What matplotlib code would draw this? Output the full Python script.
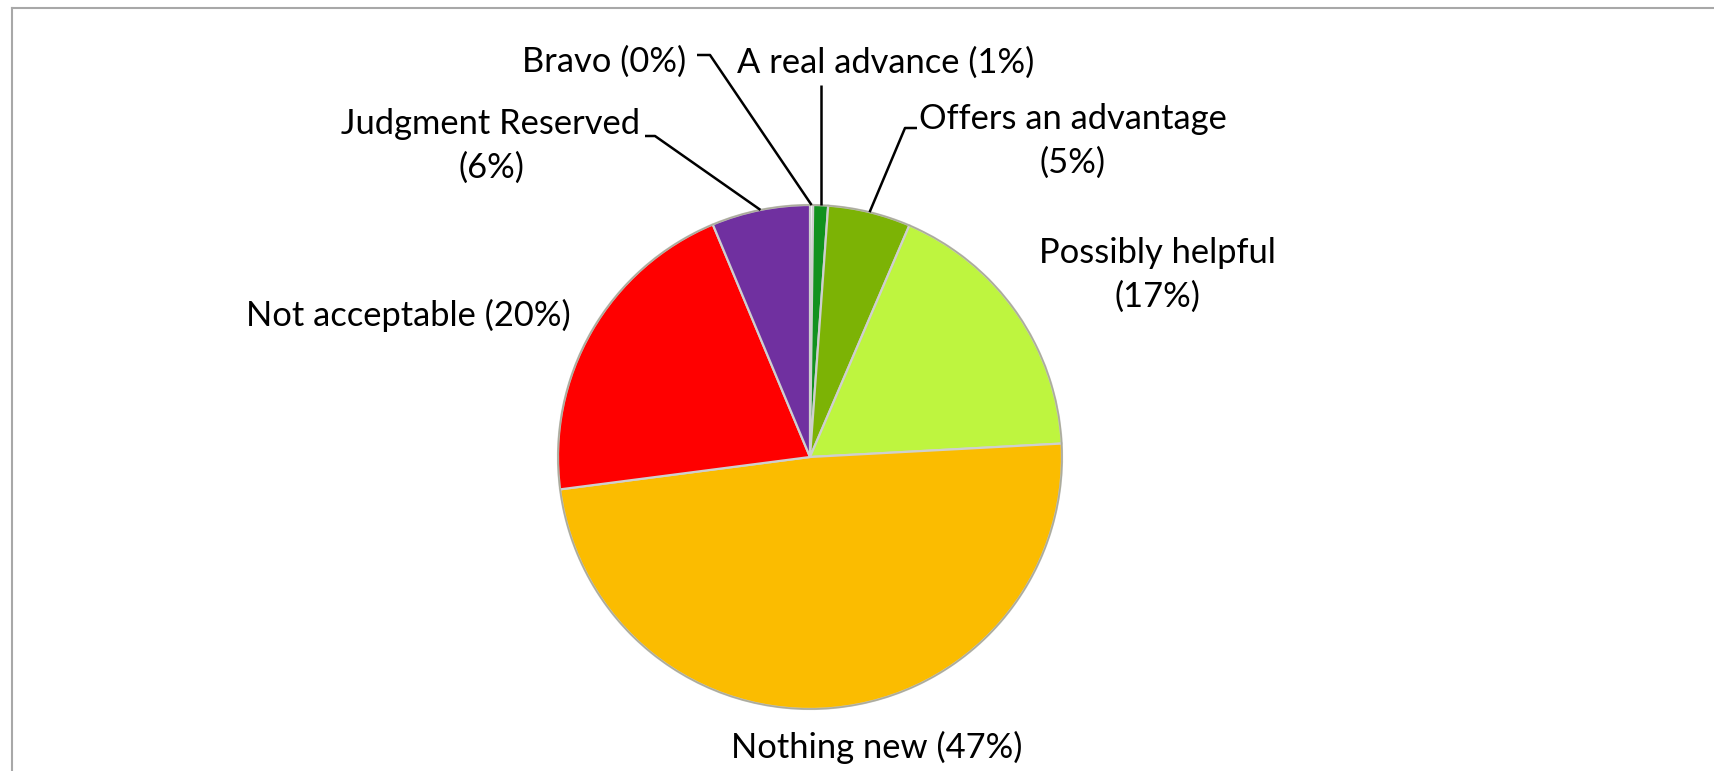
import matplotlib
matplotlib.use("Agg")
import matplotlib.pyplot as plt
import numpy as np

# data (slice sizes in percent, clockwise from 12 o'clock)
names = ["Bravo", "A real advance", "Offers an advantage", "Possibly helpful",
         "Nothing new", "Not acceptable", "Judgment Reserved"]
sizes = [0.2, 0.95, 5.3, 17.7, 48.8, 20.75, 6.3]
shown_pct = [0, 1, 5, 17, 47, 20, 6]
colors = ["#ffffff", "#12921e", "#7cb305", "#bef53f", "#fbbc00", "#ff0000", "#7030a0"]

W, H = 1715, 771
fig = plt.figure(figsize=(W / 100, H / 100), dpi=100)
ax = fig.add_axes([0, 0, 1, 1])

cx, cy, r = 810, H - 457, 252
wedges, _ = ax.pie(sizes, colors=colors, startangle=90, counterclock=False,
                   center=(cx, cy), radius=r,
                   wedgeprops=dict(edgecolor="#cfcfcf", linewidth=1.6))
# slight darker rim like the bevel in the original
rim = plt.Circle((cx, cy), r, fill=False, edgecolor="#8a8a6a", linewidth=1.2, alpha=0.5)
ax.add_patch(rim)

ax.set_xlim(0, W)
ax.set_ylim(0, H)
ax.set_aspect("equal")
ax.axis("off")

# chart frame (top and left visible)
ax.plot([12, W + 5], [H - 8, H - 8], color="#a8a8a8", lw=1.5)
ax.plot([12, 12], [H - 8, -5], color="#a8a8a8", lw=1.5)

font = dict(family=["Lato", "DejaVu Sans"], fontsize=24.8, color="black")
labels = [f"{n} ({p}%)" for n, p in zip(names, shown_pct)]


def edge_point(w):
    a = np.deg2rad((w.theta1 + w.theta2) / 2)
    return cx + r * np.cos(a), cy + r * np.sin(a)


ml = dict(ha="center", va="center", multialignment="center", linespacing=1.45)

# labels
ax.text(686, H - 62, labels[0], ha="right", va="center", **font)
ax.text(737, H - 63, labels[1], ha="left", va="center", **font)
ax.text(1073, H - 141, f"{names[2]}\n({shown_pct[2]}%)", **ml, **font)
ax.text(1157, H - 275, f"{names[3]}\n({shown_pct[3]}%)", **ml, **font)
ax.text(877, H - 747, labels[4], ha="center", va="center", **font)
ax.text(408, H - 315, labels[5], ha="center", va="center", **font)
ax.text(491, H - 146, f"{names[6]}\n({shown_pct[6]}%)", **ml, **font)

# leader lines
lk = dict(color="black", lw=1.8, solid_capstyle="butt")
ex, ey = edge_point(wedges[0])
ax.plot([697, 710, ex], [H - 55, H - 55, ey], **lk)
ex, ey = edge_point(wedges[1])
ax.plot([ex, ex], [H - 85, ey], **lk)
ex, ey = edge_point(wedges[2])
ax.plot([917, 905, ex], [H - 128, H - 128, ey], **lk)
ex, ey = edge_point(wedges[6])
ax.plot([645, 655, ex], [H - 136, H - 136, ey], **lk)

fig.savefig("out.png", dpi=100)
